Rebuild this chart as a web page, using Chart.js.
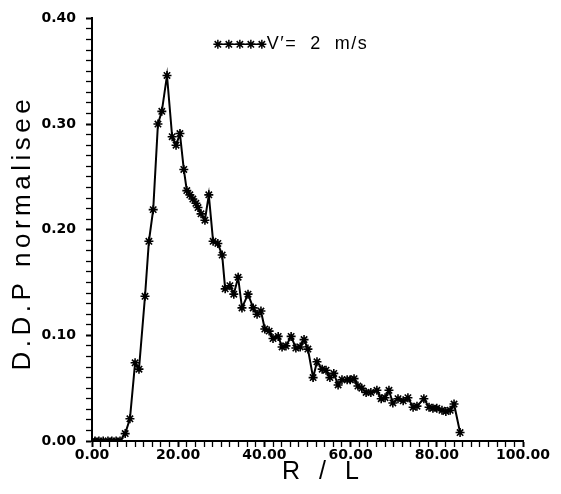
<!DOCTYPE html>
<html>
<head>
<meta charset="utf-8">
<script src="https://cdn.jsdelivr.net/npm/chart.js@4/dist/chart.umd.min.js"></script>
<style>
  html, body { margin: 0; padding: 0; background: #ffffff; }
  #wrap { width: 561px; height: 494px; position: relative; }
</style>
</head>
<body>
<div id="wrap"><canvas id="c" width="561" height="494"></canvas></div>
<script>
// ---- data ----
const seriesLabel = "V\u2032=  2  m/s";
const xTitle = "R / L";
const yTitle = "D.D.P normalisee";
const rOverL = [0.0, 0.7, 1.6, 2.6, 3.7, 4.6, 5.6, 6.5, 7.7, 8.8, 10.0, 10.9, 12.3, 13.2, 14.2, 15.3, 16.2, 17.4,
  18.6, 19.5, 20.4, 21.3, 22.0, 22.7, 23.4, 24.1, 24.6, 25.3, 26.2, 27.1, 28.1, 29.2, 30.2, 30.9, 32.0, 32.9,
  33.9, 34.8, 36.2, 37.4, 38.3, 39.2, 40.1, 41.1, 42.0, 43.2, 44.1, 45.0, 46.2, 47.3, 48.3, 49.2, 50.1, 51.3,
  52.2, 53.4, 54.3, 55.2, 56.1, 57.1, 58.0, 59.2, 59.9, 60.8, 61.7, 62.6, 63.6, 64.7, 66.1, 67.1, 68.0, 68.9,
  69.8, 71.0, 72.2, 73.3, 74.5, 75.4, 77.0, 78.2, 79.1, 80.0, 81.2, 82.1, 83.1, 84.0, 85.4];
const ddp = [0, 0, 0, 0, 0, 0, 0, 0, 0.007, 0.021, 0.074, 0.068, 0.137, 0.189, 0.219, 0.300, 0.312, 0.346,
  0.288, 0.280, 0.291, 0.257, 0.237, 0.233, 0.229, 0.225, 0.221, 0.215, 0.209, 0.233, 0.189, 0.187, 0.176, 0.144, 0.147, 0.139,
  0.155, 0.126, 0.139, 0.126, 0.120, 0.123, 0.106, 0.104, 0.097, 0.099, 0.089, 0.090, 0.099, 0.088, 0.089, 0.096, 0.087, 0.060,
  0.075, 0.068, 0.067, 0.060, 0.064, 0.053, 0.058, 0.058, 0.058, 0.059, 0.052, 0.050, 0.046, 0.046, 0.048, 0.040, 0.041, 0.048,
  0.036, 0.040, 0.038, 0.041, 0.032, 0.033, 0.040, 0.032, 0.031, 0.031, 0.029, 0.028, 0.029, 0.035, 0.008];
const xMajorLabels = [0, 20, 40, 60, 80, 100];
const yMajorLabels = [0, 0.1, 0.2, 0.3, 0.4];

const points = rOverL.map((x, i) => ({ x: x, y: ddp[i] }));

const tickFont = { family: "'DejaVu Sans', sans-serif", size: 14, weight: 'bold' };

const isMajorX = v => xMajorLabels.some(m => Math.abs(m - v) < 1e-6);
const isMajorY = v => yMajorLabels.some(m => Math.abs(m - v) < 1e-6);

const overlayPlugin = {
  id: 'overlay',
  afterDraw(chart) {
    const ctx = chart.ctx;
    const xs = chart.scales.x, ys = chart.scales.y;
    ctx.save();
    ctx.fillStyle = '#000';
    ctx.strokeStyle = '#000';
    // legend inside the plot
    const ly = ys.getPixelForValue(0.3755);
    const lx0 = xs.getPixelForValue(29.2);
    const step = 11;
    ctx.lineWidth = 1.5;
    ctx.beginPath();
    ctx.moveTo(lx0, ly);
    ctx.lineTo(lx0 + step * 4, ly);
    ctx.stroke();
    for (let i = 0; i < 5; i++) {
      Chart.helpers.drawPoint(ctx, { pointStyle: 'star', radius: 4.5, rotation: 0, borderWidth: 1.6 }, lx0 + step * i, ly);
    }
    ctx.font = "18px 'Liberation Sans', Arial, sans-serif";
    ctx.letterSpacing = '1.5px';
    ctx.textAlign = 'left';
    ctx.textBaseline = 'middle';
    ctx.fillText(seriesLabel, lx0 + step * 4 + 5, ly);

    // x axis title
    ctx.font = "25px 'Liberation Sans', Arial, sans-serif";
    ctx.letterSpacing = '6px';
    ctx.textAlign = 'center';
    ctx.textBaseline = 'alphabetic';
    ctx.fillText(xTitle, (xs.left + xs.right) / 2 + 16, 479);

    // y axis title
    ctx.translate(23, (ys.top + ys.bottom) / 2 + 3);
    ctx.rotate(-Math.PI / 2);
    ctx.font = "26px 'Liberation Sans', Arial, sans-serif";
    ctx.letterSpacing = '4.5px';
    ctx.textAlign = 'center';
    ctx.textBaseline = 'middle';
    ctx.fillText(yTitle, 0, 0);
    ctx.restore();
  }
};

new Chart(document.getElementById('c'), {
  type: 'scatter',
  data: {
    datasets: [{
      label: seriesLabel,
      data: points,
      showLine: true,
      borderColor: '#000',
      backgroundColor: '#000',
      borderWidth: 2,
      pointStyle: 'star',
      pointRadius: 4.5,
      pointBorderWidth: 1.6,
      pointBorderColor: '#000',
      tension: 0
    }]
  },
  options: {
    responsive: false,
    animation: false,
    devicePixelRatio: 1,
    layout: { padding: { left: 0, top: 16, right: 38, bottom: 0 } },
    plugins: {
      legend: { display: false },
      tooltip: { enabled: false },
      title: { display: false }
    },
    scales: {
      x: {
        type: 'linear',
        min: 0, max: 100,
        afterFit: s => { s.height = 53; },
        border: { display: true, color: '#000', width: 2 },
        grid: {
          display: true, drawOnChartArea: false, drawTicks: true,
          tickLength: 6, tickColor: '#000',
          tickWidth: c => isMajorX(c.tick.value) ? 2 : 1.3
        },
        ticks: {
          stepSize: 2, autoSkip: false, maxRotation: 0, minRotation: 0,
          padding: 0, color: '#000', font: tickFont,
          callback: v => isMajorX(v) ? Number(v).toFixed(2) : ''
        }
      },
      y: {
        type: 'linear',
        min: 0, max: 0.4,
        afterFit: s => { s.width = 92; },
        border: { display: true, color: '#000', width: 2 },
        grid: {
          display: true, drawOnChartArea: false, drawTicks: true,
          tickLength: 6, tickColor: '#000',
          tickWidth: c => isMajorY(c.tick.value) ? 2 : 1.3
        },
        ticks: {
          stepSize: 0.01, autoSkip: false, padding: 10, color: '#000', font: tickFont,
          callback: v => isMajorY(v) ? Number(v).toFixed(2) : ''
        }
      }
    }
  },
  plugins: [overlayPlugin]
});
</script>
</body>
</html>
